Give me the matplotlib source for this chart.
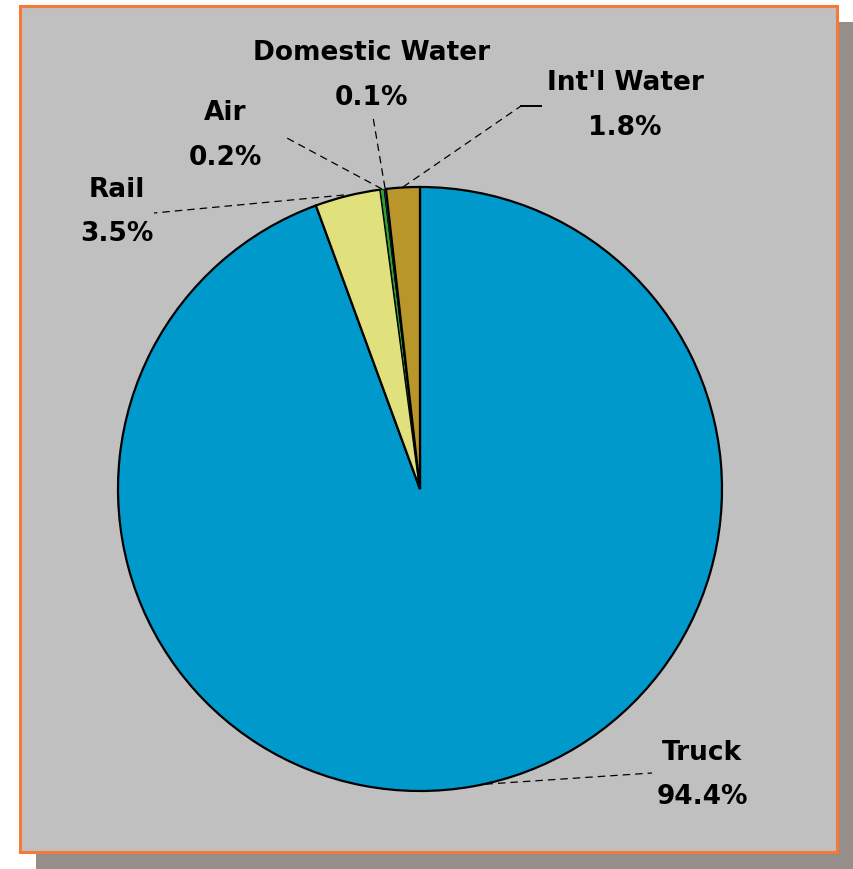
import matplotlib
matplotlib.use("Agg")
import matplotlib.pyplot as plt
from matplotlib.patches import Rectangle

categories = ["Truck", "Rail", "Air", "Domestic Water", "Int'l Water"]
shares = [94.4, 3.5, 0.2, 0.1, 1.8]
pct_labels = ["94.4%", "3.5%", "0.2%", "0.1%", "1.8%"]
colors = ["#0099CC", "#E0E07C", "#2FA02F", "#2040D0", "#B8962A"]

W, H = 854, 870
fig = plt.figure(figsize=(W / 100, H / 100), dpi=100, facecolor="white")
ax = fig.add_axes([0, 0, 1, 1])

def py(y):
    return H - y

cx, cy, R = 420, py(490), 302

wedges, _ = ax.pie(shares, colors=colors, startangle=90, counterclock=False,
                   center=(cx, cy), radius=R,
                   wedgeprops=dict(edgecolor="black", linewidth=1.6))
for w, s in zip(wedges, shares):
    w.set_zorder(5)
    if s < 1:
        w.set_linewidth(0.5)

# background box with shadow
ax.add_patch(Rectangle((36, py(870)), 818, 847, facecolor="#968E88",
                       edgecolor="none", zorder=0))
ax.add_patch(Rectangle((20, py(853)), 817, 846, facecolor="#C0C0C0",
                       edgecolor="#F5793A", linewidth=2.2, zorder=1))

ax.set_xlim(0, W)
ax.set_ylim(0, H)
ax.set_aspect("equal")
ax.axis("off")

# label positions (pixel coords, centre of name line / pct line)
label_pos = {
    "Truck": (702, 753, 797),
    "Rail": (117, 190, 234),
    "Air": (225, 113, 158),
    "Domestic Water": (372, 53, 98),
    "Int'l Water": (625, 83, 128),
}
for cat, pct in zip(categories, pct_labels):
    x, y1, y2 = label_pos[cat]
    ax.text(x, py(y1), cat, ha="center", va="center", fontsize=19,
            fontweight="bold", family="DejaVu Sans", color="black", zorder=6)
    ax.text(x, py(y2), pct, ha="center", va="center", fontsize=19,
            fontweight="bold", family="DejaVu Sans", color="black", zorder=6)

# leader lines (pixel coords)
leaders = [
    [(473, 786), (652, 774)],
    [(344, 196), (154, 214)],
    [(382, 190), (285, 138)],
    [(385, 189), (373, 118)],
    [(403, 188), (521, 107)],
]
for pts in leaders:
    xs = [p[0] for p in pts]
    ys = [py(p[1]) for p in pts]
    ax.plot(xs, ys, color="black", linewidth=0.9, linestyle=(0, (6, 4)),
            zorder=4)
ax.plot([521, 541], [py(107), py(107)], color="black", linewidth=1.4,
        zorder=4)

fig.savefig("out.png", dpi=100, facecolor="white")
